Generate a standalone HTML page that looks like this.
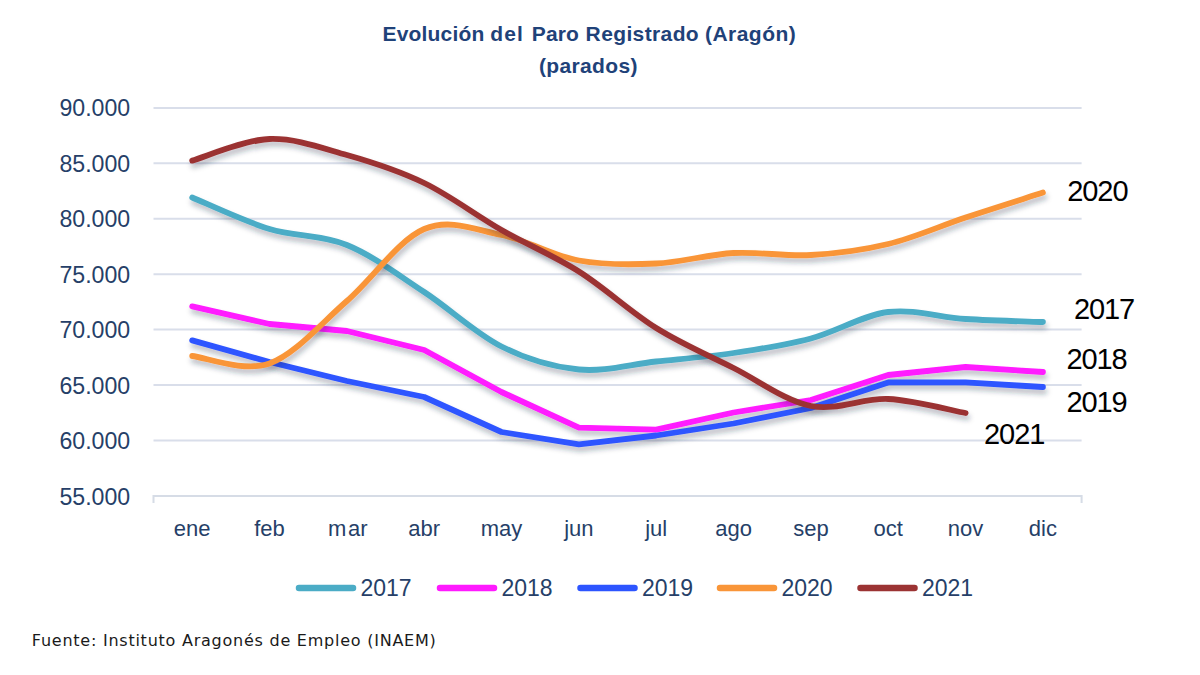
<!DOCTYPE html>
<html><head><meta charset="utf-8"><title>Evolución del Paro Registrado (Aragón)</title>
<style>
html,body{margin:0;padding:0;background:#fff;}
body{width:1200px;height:675px;overflow:hidden;position:relative;}
svg{position:absolute;left:0;top:0;}
.g{stroke:#D9DEEA;stroke-width:2;}
.ax{stroke:#D6DCE6;stroke-width:2;fill:none;}
.yl{font-family:"Liberation Sans",sans-serif;font-size:23px;fill:#263F68;}
.xl{font-family:"Liberation Sans",sans-serif;font-size:22px;fill:#263F68;text-anchor:middle;}
.lt{font-family:"Liberation Sans",sans-serif;font-size:23px;fill:#263F68;}
.rl{font-family:"Liberation Sans",sans-serif;font-size:29px;fill:#000;letter-spacing:-1.1px;}
.tt{font-family:"Liberation Sans",sans-serif;font-size:21px;font-weight:bold;fill:#1F4279;letter-spacing:0.1px;}
.ln{fill:none;stroke-width:5.8;stroke-linecap:round;stroke-linejoin:round;filter:url(#sh);}
.lg{stroke-width:6.5;stroke-linecap:round;}
.ft{font-family:"DejaVu Sans",sans-serif;font-size:16px;fill:#1a1a1a;}
</style></head>
<body>
<svg width="1200" height="675" viewBox="0 0 1200 675">
<defs>
<filter id="sh" x="-5%" y="-10%" width="110%" height="130%">
<feDropShadow dx="1.5" dy="4.5" stdDeviation="2.6" flood-color="#1c2a40" flood-opacity="0.3"/>
</filter>
</defs>
<text y="41" class="tt"><tspan x="382.6" textLength="101.8" lengthAdjust="spacing">Evolución</tspan><tspan x="490.3" textLength="32.6" lengthAdjust="spacing">del</tspan><tspan x="531.8" textLength="47.2" lengthAdjust="spacing">Paro</tspan><tspan x="585.6" textLength="113.2" lengthAdjust="spacing">Registrado</tspan><tspan x="705" textLength="90.8" lengthAdjust="spacing">(Aragón)</tspan></text>
<text x="539" y="73" class="tt" textLength="98.6" lengthAdjust="spacing">(parados)</text>
<line x1="153.5" y1="107.9" x2="1081.6" y2="107.9" class="g"/>
<line x1="153.5" y1="163.3" x2="1081.6" y2="163.3" class="g"/>
<line x1="153.5" y1="218.8" x2="1081.6" y2="218.8" class="g"/>
<line x1="153.5" y1="274.2" x2="1081.6" y2="274.2" class="g"/>
<line x1="153.5" y1="329.6" x2="1081.6" y2="329.6" class="g"/>
<line x1="153.5" y1="385.0" x2="1081.6" y2="385.0" class="g"/>
<line x1="153.5" y1="440.5" x2="1081.6" y2="440.5" class="g"/>
<path d="M153.5 502.9 V495.9 H1081.6 V502.9" class="ax"/>
<text x="59.4" y="116.1" class="yl" textLength="70.8" lengthAdjust="spacingAndGlyphs">90.000</text>
<text x="59.4" y="171.6" class="yl" textLength="70.8" lengthAdjust="spacingAndGlyphs">85.000</text>
<text x="59.4" y="227.1" class="yl" textLength="70.8" lengthAdjust="spacingAndGlyphs">80.000</text>
<text x="59.4" y="282.6" class="yl" textLength="70.8" lengthAdjust="spacingAndGlyphs">75.000</text>
<text x="59.4" y="338.1" class="yl" textLength="70.8" lengthAdjust="spacingAndGlyphs">70.000</text>
<text x="59.4" y="393.6" class="yl" textLength="70.8" lengthAdjust="spacingAndGlyphs">65.000</text>
<text x="59.4" y="449.1" class="yl" textLength="70.8" lengthAdjust="spacingAndGlyphs">60.000</text>
<text x="59.4" y="504.6" class="yl" textLength="70.8" lengthAdjust="spacingAndGlyphs">55.000</text>
<text x="192.2" y="536" class="xl">ene</text>
<text x="269.5" y="536" class="xl">feb</text>
<text x="347.8" y="536" class="xl">m<tspan dx="1.8">ar</tspan></text>
<text x="424.2" y="536" class="xl">abr</text>
<text x="501.5" y="536" class="xl">may</text>
<text x="578.9" y="536" class="xl">jun</text>
<text x="656.2" y="536" class="xl">jul</text>
<text x="733.6" y="536" class="xl">ago</text>
<text x="810.9" y="536" class="xl">sep</text>
<text x="888.2" y="536" class="xl">oct</text>
<text x="965.6" y="536" class="xl">nov</text>
<text x="1042.9" y="536" class="xl">dic</text>
<path d="M192.2 197.5 C205.1 202.8 243.7 221.1 269.5 229.0 C295.3 236.9 321.1 234.5 346.9 245.0 C372.6 255.5 398.4 275.1 424.2 292.0 C450.0 308.9 475.8 333.6 501.5 346.5 C527.3 359.4 553.1 367.0 578.9 369.5 C604.7 372.0 630.4 364.2 656.2 361.5 C682.0 358.8 707.8 356.8 733.6 353.0 C759.3 349.2 785.1 345.3 810.9 338.5 C836.7 331.7 862.5 315.2 888.2 312.0 C914.0 308.8 939.8 317.3 965.6 319.0 C991.4 320.7 1030.0 321.5 1042.9 322.0" stroke="#4BACC6" class="ln"/>
<path d="M192.2 306.4 L269.5 324.0 L346.9 331.0 L424.2 350.0 L501.5 392.0 L578.9 427.6 L656.2 429.6 L733.6 412.5 L810.9 400.0 L888.2 375.0 L965.6 367.0 L1042.9 372.0" stroke="#FF1AFF" class="ln"/>
<path d="M192.2 340.4 L269.5 362.0 L346.9 381.0 L424.2 397.0 L501.5 432.0 L578.9 444.4 L656.2 435.5 L733.6 423.5 L810.9 408.0 L888.2 382.4 L965.6 382.4 L1042.9 387.0" stroke="#2D55FF" class="ln"/>
<path d="M192.2 356.0 C205.1 357.2 243.7 372.7 269.5 363.5 C295.3 354.3 321.1 323.4 346.9 301.0 C372.6 278.6 398.4 240.0 424.2 229.0 C450.0 218.0 475.8 229.8 501.5 235.0 C527.3 240.2 553.1 255.8 578.9 260.5 C604.7 265.2 630.4 264.8 656.2 263.5 C682.0 262.2 707.8 254.4 733.6 253.0 C759.3 251.6 785.1 256.5 810.9 255.0 C836.7 253.5 862.5 250.2 888.2 244.0 C914.0 237.8 939.8 226.1 965.6 217.5 C991.4 208.9 1030.0 196.8 1042.9 192.6" stroke="#F99538" class="ln"/>
<path d="M192.2 160.6 C205.1 157.0 243.7 139.9 269.5 139.0 C295.3 138.1 321.1 147.7 346.9 155.0 C372.6 162.3 398.4 170.5 424.2 183.0 C450.0 195.5 475.8 215.2 501.5 230.0 C527.3 244.8 553.1 255.2 578.9 271.5 C604.7 287.8 630.4 311.9 656.2 328.0 C682.0 344.1 707.8 355.0 733.6 368.0 C759.3 381.0 785.1 400.8 810.9 406.0 C836.7 411.2 862.5 397.8 888.2 399.0 C914.0 400.2 952.7 410.7 965.6 413.0" stroke="#9B3333" class="ln"/>
<line x1="299.0" y1="588.1" x2="353.0" y2="588.1" stroke="#4BACC6" class="lg"/>
<text x="360.5" y="595.8" class="lt">2017</text>
<line x1="440.0" y1="588.1" x2="494.0" y2="588.1" stroke="#FF1AFF" class="lg"/>
<text x="501.5" y="595.8" class="lt">2018</text>
<line x1="580.5" y1="588.1" x2="634.5" y2="588.1" stroke="#2D55FF" class="lg"/>
<text x="642.0" y="595.8" class="lt">2019</text>
<line x1="720.0" y1="588.1" x2="774.0" y2="588.1" stroke="#F99538" class="lg"/>
<text x="781.5" y="595.8" class="lt">2020</text>
<line x1="860.5" y1="588.1" x2="914.5" y2="588.1" stroke="#9B3333" class="lg"/>
<text x="922.0" y="595.8" class="lt">2021</text>
<text x="1067.3" y="200.6" class="rl">2020</text>
<text x="1074.0" y="319.4" class="rl">2017</text>
<text x="1066.4" y="368.6" class="rl">2018</text>
<text x="1066.4" y="412.2" class="rl">2019</text>
<text x="984.1" y="444.2" class="rl">2021</text>
<text x="31.8" y="645.8" class="ft" textLength="404" lengthAdjust="spacing">Fuente: Instituto Aragonés de Empleo (INAEM)</text>
</svg>
</body></html>
